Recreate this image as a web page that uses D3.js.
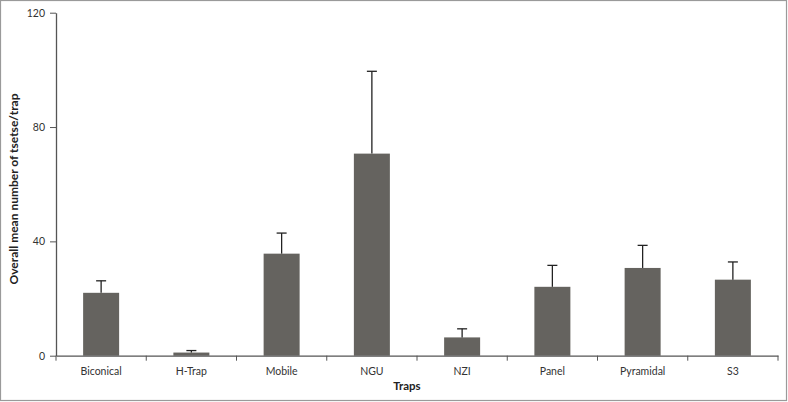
<!DOCTYPE html>
<html lang='en'>
  <head>
    <style type='text/css'>
      body {margin: 0; background-color: #fff;}
      #chart {width: 788px; height: 402px;}
      text {font-family: Lato, 'Open Sans', sans-serif;}
    </style>
  </head>
  <body>
    <div id='chart'></div>

    <script src='https://d3js.org/d3.v7.min.js'></script>
    <script type='text/javascript'>
        // chart data
        var traps = ["Biconical", "H-Trap", "Mobile", "NGU", "NZI", "Panel", "Pyramidal", "S3"];
        var means = [22.0, 1.1, 35.7, 70.7, 6.4, 24.1, 30.7, 26.6];
        var upper = [26.2, 1.8, 42.9, 99.5, 9.4, 31.6, 38.6, 32.8];
        var yTicks = [0, 40, 80, 120];

        var W = 788, H = 402;
        var margin = {top: 12.7, right: 10, bottom: 46.3, left: 56};

        var svg = d3.select("#chart").append("svg")
            .attr("width", W)
            .attr("height", H);

        // outer frame
        svg.append("rect")
            .attr("x", 0.5).attr("y", 0.5)
            .attr("width", W - 2).attr("height", H - 2)
            .style("fill", "none")
            .style("stroke", "#9a9a9a")
            .style("stroke-width", 1.2);

        var x = d3.scaleBand().domain(traps)
            .range([margin.left, W - margin.right]);
        var y = d3.scaleLinear().domain([0, 120])
            .range([H - margin.bottom, margin.top]);

        var barW = 36;

        // bars
        svg.selectAll("rect.bar").data(traps)
          .enter().append("rect")
            .attr("class", "bar")
            .attr("x", function(d) { return x(d) + x.bandwidth() / 2 - barW / 2; })
            .attr("y", function(d, i) { return y(means[i]); })
            .attr("width", barW)
            .attr("height", function(d, i) { return y(0) - y(means[i]); })
            .style("fill", "#65635f");

        // error bars
        var err = svg.selectAll("g.err").data(traps)
          .enter().append("g")
            .attr("class", "err")
            .attr("transform", function(d) { return "translate(" + (x(d) + x.bandwidth() / 2) + ",0)"; });

        err.append("line")
            .attr("x1", 0).attr("x2", 0)
            .attr("y1", function(d, i) { return y(means[i]); })
            .attr("y2", function(d, i) { return y(upper[i]); })
            .style("stroke", "#222")
            .style("stroke-width", 1.3);

        err.append("line")
            .attr("x1", -5).attr("x2", 5)
            .attr("y1", function(d, i) { return y(upper[i]); })
            .attr("y2", function(d, i) { return y(upper[i]); })
            .style("stroke", "#222")
            .style("stroke-width", 1.3);

        // y axis
        var yAxis = svg.append("g")
            .attr("transform", "translate(" + margin.left + ",0)")
            .call(d3.axisLeft(y).tickValues(yTicks).tickSize(6).tickPadding(5).tickSizeOuter(0));

        // x axis with ticks between categories
        var xAxis = svg.append("g")
            .attr("transform", "translate(0," + y(0) + ")")
            .call(d3.axisBottom(x).tickSize(0).tickPadding(12).tickSizeOuter(0));

        var bounds = x.domain().map(function(d) { return x(d); }).concat([x.range()[1]]);
        xAxis.selectAll("line.sep").data(bounds)
          .enter().append("line")
            .attr("class", "sep")
            .attr("x1", function(d) { return d; })
            .attr("x2", function(d) { return d; })
            .attr("y1", 0).attr("y2", 5)
            .style("stroke", "#555");

        [xAxis, yAxis].forEach(function(a) {
            a.select(".domain").style("stroke", "#555").style("stroke-width", 1.3);
            a.selectAll(".tick line").style("stroke", "#555");
            a.selectAll("text")
                .style("font-size", "10.5px")
                .style("fill", "#333")
                .style("font-family", "Lato, 'Open Sans', sans-serif");
        });

        // axis titles
        svg.append("text")
            .attr("x", 407)
            .attr("y", 390)
            .style("text-anchor", "middle")
            .style("font-size", "11.5px")
            .style("font-weight", "bold")
            .style("fill", "#222")
            .text("Traps");

        svg.append("text")
            .attr("transform", "translate(18,189) rotate(-90)")
            .style("text-anchor", "middle")
            .style("font-size", "12px")
            .style("font-weight", "bold")
            .style("fill", "#222")
            .text("Overall mean number of tsetse/trap");
    </script>
  </body>
</html>
